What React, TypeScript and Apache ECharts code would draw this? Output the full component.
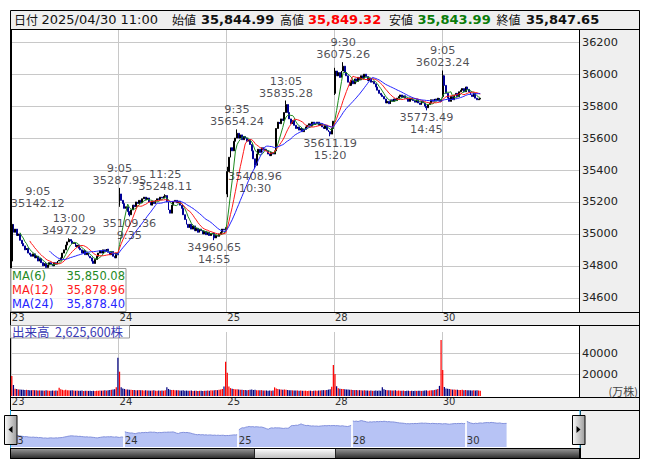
import React, { useEffect, useRef } from 'react';
import * as echarts from 'echarts';

// ---------------- data ----------------
const DAYS = ['23', '24', '25', '28', '30'];
const INFO_DATE = '2025/04/30';
const INFO_TIME = '11:00';

// closes of each 5-minute bar (9:05 ... 11:30, 12:35 ... 15:30)
const CLOSE_23 = [
  35060, 35010, 35030, 34990, 35000, 34960,
  34940, 34925, 34900, 34910, 34880, 34870,
  34860, 34875, 34850, 34860, 34830, 34845,
  34820, 34800, 34815, 34790, 34805, 34820,
  34810, 34800, 34820, 34810, 34830, 34835,
  34850, 34880, 34900, 34930, 34950, 34965,
  34955, 34940, 34945, 34920, 34930, 34910,
  34900, 34880, 34895, 34870, 34880, 34860,
  34850, 34830, 34815, 34840, 34860, 34880,
  34895, 34880, 34900, 34890, 34905, 34885,
  34870, 34890, 34860, 34850, 34880, 34868.63,
];
const CLOSE_24 = [
  35250, 35210, 35190, 35160, 35170, 35140,
  35120, 35150, 35180, 35170, 35200, 35190,
  35210, 35195, 35220, 35230, 35215, 35225,
  35200, 35180, 35205, 35190, 35210, 35220,
  35215, 35230, 35225, 35235, 35240, 35200,
  35150, 35130, 35180, 35200, 35210, 35195,
  35205, 35180, 35160, 35120, 35090, 35060,
  35040, 35060, 35030, 35050, 35020, 35035,
  35010, 35030, 35020, 35000, 35015, 34995,
  35010, 34990, 35000, 35005, 34975, 34990,
  34985, 35000, 35010, 35030, 35025, 35039.15,
];
const CLOSE_25 = [
  35390, 35480, 35540, 35520, 35580, 35600,
  35630, 35600, 35620, 35590, 35610, 35600,
  35580, 35590, 35560, 35520, 35470, 35430,
  35500, 35530, 35510, 35540, 35525, 35530,
  35520, 35500, 35490, 35510, 35500, 35520,
  35660, 35700, 35690, 35720, 35710, 35760,
  35810, 35760, 35720, 35690, 35710, 35680,
  35660, 35670, 35650, 35660, 35640, 35655,
  35670, 35680, 35690, 35675, 35700, 35685,
  35690, 35700, 35680, 35690, 35670, 35660,
  35680, 35650, 35640, 35625, 35660, 35705.74,
];
const CLOSE_28 = [
  36020, 35990, 36010, 35980, 36020, 36050,
  36010, 35990, 35950, 35930, 35960, 35940,
  35970, 35955, 35980, 35965, 35990, 35975,
  36000, 35985, 35960, 35975, 35950, 35955,
  35940, 35920, 35900, 35880, 35870, 35860,
  35845, 35820, 35830, 35815, 35840, 35830,
  35845, 35835, 35850, 35860, 35870, 35855,
  35865, 35850, 35845, 35830, 35850, 35840,
  35835, 35825, 35840, 35820, 35810, 35830,
  35820, 35800, 35790, 35810, 35820, 35840,
  35830, 35845, 35835, 35850, 35830, 35839.99,
];
const CLOSE_30 = [
  35990, 35930, 35880, 35850, 35830, 35860,
  35840, 35870, 35880, 35860, 35890, 35900,
  35910, 35890, 35920, 35905, 35890, 35870,
  35860, 35880, 35850, 35840, 35844.99, 35847.65,
];
// first bar of each day: [open, high, low]
const FIRST_BAR = [
  [34830, 35142.12, 34800],
  [35180, 35287.95, 35170],
  [35250, 35420, 35230],
  [35880, 36040, 35870],
  [35860, 36023.24, 35850],
];
// latest bar (info bar): open, high, low, close
const LAST_BAR = [35844.99, 35849.32, 35843.99, 35847.65];

// volume (万株)
const VOL_23 = [
  18700, 10300, 6800, 6500, 6200, 6000, 5900, 5800, 5700, 5800, 5600, 5500,
  5400, 5600, 5300, 5400, 5200, 5300, 5100, 5200, 5000, 5300, 5100, 4900,
  5000, 5200, 4900, 5100, 5000, 7800, 6400, 5800, 5500, 5800, 5400, 5300,
  5200, 5400, 5100, 5000, 5200, 4900, 5000, 5100, 4800, 4900, 5000, 4800,
  4900, 4700, 4900, 4800, 5000, 4900, 5100, 5000, 5200, 5300, 5100, 5400,
  5600, 5800, 6000, 6300, 8200, 35900,
];
const VOL_24 = [
  22800, 8200, 7000, 6600, 6200, 6000, 5800, 5900, 5600, 5700, 5500, 5400,
  5600, 5300, 5400, 5200, 5300, 5100, 5200, 5000, 5100, 5300, 5000, 4900,
  5100, 5000, 5200, 5000, 5300, 8100, 6600, 5900, 5600, 5700, 5400, 5300,
  5500, 5200, 5100, 5300, 5000, 5100, 4900, 5000, 5200, 4800, 4900, 5000,
  4800, 4900, 5000, 4700, 4900, 5000, 5100, 5000, 5300, 5200, 5400, 5600,
  5500, 5800, 6100, 6500, 9000, 32100,
];
const VOL_25 = [
  21800, 8800, 7400, 6900, 6500, 6200, 6400, 6000, 5800, 5900, 5600, 5700,
  5500, 5600, 5800, 6000, 5700, 5900, 5500, 5400, 5300, 5500, 5200, 5100,
  5200, 5000, 5100, 5000, 5200, 8100, 7000, 6500, 6200, 6000, 5800, 6100,
  5900, 5600, 5500, 5400, 5300, 5200, 5100, 5200, 5000, 5100, 4900, 5000,
  5000, 4800, 4900, 5000, 4800, 4900, 5100, 5000, 5200, 5100, 5300, 5500,
  5400, 5700, 6000, 6400, 8600, 29000,
];
const VOL_28 = [
  20600, 9200, 7200, 6900, 6600, 6500, 6300, 6100, 6000, 5800, 5900, 5600,
  5500, 5700, 5400, 5500, 5300, 5200, 5300, 5100, 5200, 5000, 5100, 4900,
  5000, 5200, 4900, 5100, 5000, 8100, 6300, 5700, 5400, 5500, 5300, 5200,
  5100, 5300, 5000, 5100, 4900, 5000, 5100, 4800, 4900, 5000, 4800, 4900,
  4700, 4900, 4800, 5000, 4900, 4800, 5000, 5100, 5300, 5000, 5200, 5400,
  5500, 5700, 6000, 6500, 9500, 52500,
];
const VOL_30 = [
  24400, 8400, 7000, 6800, 6500, 6300, 6000, 6100, 5800, 5900, 5700, 5600,
  5800, 5500, 5600, 5400, 5500, 5300, 5200, 5400, 5100, 5300, 5200, 5000,
];
const VOLUME_LAST_SHARES = 2625600;

// daily highs / lows marked on the chart
const ANNOTATIONS = [
  { day: '23', time: '9:05', value: 35142.12, kind: 'high' },
  { day: '23', time: '13:00', value: 34972.29, kind: 'high' },
  { day: '24', time: '9:05', value: 35287.95, kind: 'high' },
  { day: '24', time: '9:35', value: 35109.36, kind: 'low' },
  { day: '24', time: '11:25', value: 35248.11, kind: 'high' },
  { day: '24', time: '14:55', value: 34960.65, kind: 'low' },
  { day: '25', time: '9:35', value: 35654.24, kind: 'high' },
  { day: '25', time: '10:30', value: 35408.96, kind: 'low' },
  { day: '25', time: '13:05', value: 35835.28, kind: 'high' },
  { day: '25', time: '15:20', value: 35611.19, kind: 'low' },
  { day: '28', time: '9:30', value: 36075.26, kind: 'high' },
  { day: '28', time: '14:45', value: 35773.49, kind: 'low' },
  { day: '30', time: '9:05', value: 36023.24, kind: 'high' },
];

const MA_PERIODS = [6, 12, 24];
const MA_LAST = [35850.08, 35878.96, 35878.4];
const MA_COLORS = ['#1f8a1f', '#ff1a1a', '#2424ff'];

const PRICE_MIN = 34511;
const PRICE_MAX = 36283;
const VOL_MAX = 60000;
const VOL_GRID = [20000, 40000];
const MINI_MIN = 34170;
const MINI_MAX = 36800;
const PRICE_SLOTS = 348;
const MINI_SLOTS = 330;

// ---------------- helpers ----------------
const FONT = '"DejaVu Sans", Verdana, sans-serif';
const JP = '"Noto Sans CJK JP", sans-serif';
const fmt2 = (v: number) =>
  v.toLocaleString('en-US', { minimumFractionDigits: 2, maximumFractionDigits: 2 });

function timeToIndex(t: string) {
  const [h, m] = t.split(':').map(Number);
  const mins = h * 60 + m;
  if (mins <= 11 * 60 + 30) return (mins - (9 * 60 + 5)) / 5;
  return 30 + (mins - (12 * 60 + 35)) / 5;
}
function indexToTime(i: number) {
  const mins = i < 30 ? 9 * 60 + 5 + i * 5 : 12 * 60 + 35 + (i - 30) * 5;
  return `${Math.floor(mins / 60)}:${String(mins % 60).padStart(2, '0')}`;
}

function buildOption() {
  const dayCloses = [CLOSE_23, CLOSE_24, CLOSE_25, CLOSE_28, CLOSE_30];
  const dayVols = [VOL_23, VOL_24, VOL_25, VOL_28, VOL_30];
  const candles: number[][] = [];
  const closes: number[] = [];
  const vols: number[] = [];
  const cats: string[] = [];
  const dayStart: number[] = [];
  dayCloses.forEach((dc, d) => {
    dayStart.push(candles.length);
    dc.forEach((c, i) => {
      const o = i === 0 ? FIRST_BAR[d][0] : dc[i - 1];
      let hi = Math.max(o, c);
      let lo = Math.min(o, c);
      if (i === 0) {
        hi = Math.max(hi, FIRST_BAR[d][1]);
        lo = Math.min(lo, FIRST_BAR[d][2]);
      }
      candles.push([o, c, lo, hi]);
      closes.push(c);
      vols.push(dayVols[d][i]);
      cats.push(`${DAYS[d]} ${indexToTime(i)}`);
    });
  });
  const n = candles.length;
  const lastC = candles[n - 1];
  lastC[0] = LAST_BAR[0];
  lastC[3] = Math.max(lastC[3], LAST_BAR[1]);
  lastC[2] = Math.min(lastC[2], LAST_BAR[2]);
  lastC[1] = LAST_BAR[3];

  const annData = ANNOTATIONS.map((a) => {
    const idx = dayStart[DAYS.indexOf(a.day)] + timeToIndex(a.time);
    if (a.kind === 'high') candles[idx][3] = Math.max(candles[idx][3], a.value);
    else candles[idx][2] = Math.min(candles[idx][2], a.value);
    const vs = a.value.toFixed(2);
    const isHigh = a.kind === 'high';
    return {
      value: [idx, a.value],
      label: {
        position: isHigh ? 'top' : 'bottom',
        formatter: isHigh ? `${a.time}\n${vs}` : `${vs}\n${a.time}`,
        offset: idx === 0 ? [26, 0] : [0, 0],
      },
    };
  });

  const priceCats = cats.slice();
  for (let i = n; i < PRICE_SLOTS; i++) priceCats.push(`p${i}`);
  const miniCats = cats.slice();
  for (let i = n; i < MINI_SLOTS; i++) miniCats.push(`m${i}`);

  const isDayStart = (i: number) => i < n && dayStart.indexOf(i) >= 0;
  const dayLabel = (v: string) => v.split(' ')[0];

  const ma = (p: number) =>
    closes.map((_, i) => {
      if (i < p - 1) return '-';
      let s = 0;
      for (let k = i - p + 1; k <= i; k++) s += closes[k];
      return +(s / p).toFixed(2);
    });

  const volData = vols.map((v, i) => ({
    value: v,
    itemStyle: { color: candles[i][1] >= candles[i][0] ? '#ff0000' : '#000080' },
  }));

  const miniSeries = dayStart.map((s, d) => {
    const data: (number | string)[] = new Array(MINI_SLOTS).fill('-');
    dayCloses[d].forEach((_, i) => (data[s + i] = closes[s + i]));
    return {
      type: 'line',
      xAxisIndex: 2,
      yAxisIndex: 2,
      data,
      showSymbol: false,
      symbol: 'none',
      lineStyle: { color: '#8391dc', width: 1 },
      areaStyle: { color: '#b7c3f5', opacity: 1, origin: 'start' },
      silent: true,
      z: 2,
    };
  });

  const splitLineDays = {
    show: true,
    interval: (i: number) => isDayStart(i),
    lineStyle: { color: '#c8c8c8', width: 1 },
  };
  const dayAxisLabel = {
    show: true,
    interval: (i: number) => isDayStart(i),
    formatter: dayLabel,
    align: 'left',
    color: '#333',
    fontSize: 10,
    fontFamily: FONT,
    margin: 0,
  };

  // --------- graphic (frame, panels, texts) ---------
  const G = '#efefef';
  const rect = (x: number, y: number, w: number, h: number, fill: any, z = -5, stroke?: string) => ({
    type: 'rect',
    shape: { x, y, width: w, height: h },
    style: stroke ? { fill, stroke, lineWidth: 1 } : { fill },
    z,
    silent: true,
  });
  const line = (x1: number, y1: number, x2: number, y2: number, color = '#000') => ({
    type: 'line',
    shape: { x1, y1, x2, y2 },
    style: { stroke: color, lineWidth: 1 },
    z: 60,
    silent: true,
  });
  const text = (x: number, y: number, t: string, o: any = {}) => ({
    type: 'text',
    x,
    y,
    style: {
      text: t,
      fill: o.fill || '#111',
      fontSize: o.size || 12,
      fontFamily: o.family || FONT,
      fontWeight: o.weight || 'normal',
      align: o.align || 'left',
      verticalAlign: 'middle',
    },
    z: 70,
    silent: true,
  });

  const graphics: any[] = [
    rect(10, 10, 630, 19, G),
    rect(579, 29, 61, 283, G),
    rect(10, 312, 630, 13, G),
    rect(579, 325, 61, 72, G),
    rect(10, 397, 630, 13, G),
    rect(580, 410, 60, 49, G),
    // frame lines
    { type: 'rect', shape: { x: 10.5, y: 10.5, width: 629, height: 448 }, style: { fill: 'none', stroke: '#000', lineWidth: 1 }, z: 60, silent: true },
    line(10, 29.5, 640, 29.5),
    line(579.5, 29, 579.5, 312),
    line(579.5, 325, 579.5, 397),
    line(10, 312.5, 640, 312.5),
    line(10, 325.5, 640, 325.5),
    line(10, 397.5, 640, 397.5),
    line(10, 410.5, 640, 410.5),
    line(580.5, 410, 580.5, 459),
    line(10, 448.5, 580, 448.5),
    line(11.5, 29, 11.5, 312),
    // info bar
    text(14, 19.5, '日付', { family: JP, size: 12 }),
    text(41.5, 19.5, `${INFO_DATE} ${INFO_TIME}`, { size: 13 }),
    text(172, 19.5, '始値', { family: JP, size: 12 }),
    text(201, 19.5, fmt2(LAST_BAR[0]), { size: 13, weight: 'bold' }),
    text(280, 19.5, '高値', { family: JP, size: 12 }),
    text(308, 19.5, fmt2(LAST_BAR[1]), { size: 13, weight: 'bold', fill: '#ff0000' }),
    text(389, 19.5, '安値', { family: JP, size: 12 }),
    text(417.5, 19.5, fmt2(LAST_BAR[2]), { size: 13, weight: 'bold', fill: '#0a7d0a' }),
    text(496.5, 19.5, '終値', { family: JP, size: 12 }),
    text(526, 19.5, fmt2(LAST_BAR[3]), { size: 13, weight: 'bold' }),
    // MA legend
    { type: 'rect', shape: { x: 10.5, y: 268.5, width: 115.5, height: 43 }, style: { fill: 'rgba(255,255,255,0.8)', stroke: '#999', lineWidth: 1 }, z: 65, silent: true },
    ...MA_PERIODS.flatMap((p, k) => [
      text(12, 275.5 + k * 14, `MA(${p})`, { fill: MA_COLORS[k], size: 11.5 }),
      text(125, 275.5 + k * 14, fmt2(MA_LAST[k]), { fill: MA_COLORS[k], size: 11.5, align: 'right' }),
    ]),
    // volume label
    { type: 'rect', shape: { x: 10.5, y: 325.5, width: 119, height: 12.5 }, style: { fill: 'rgba(255,255,255,0.8)', stroke: '#999', lineWidth: 1 }, z: 65, silent: true },
    text(12, 331.8, `出来高  ${VOLUME_LAST_SHARES.toLocaleString('en-US')}株`, { family: JP, size: 12.5, fill: '#3a3ab4' }),
    text(638, 391, '(万株)', { family: JP, size: 11, fill: '#444', align: 'right' }),
    // slider
    line(10.5, 410, 10.5, 448, '#22a6e0'),
    line(580, 410, 580, 448, '#22a6e0'),
    {
      type: 'rect', shape: { x: 10.5, y: 448.5, width: 569, height: 10 },
      style: { fill: new echarts.graphic.LinearGradient(0, 0, 0, 1, [{ offset: 0, color: '#9a9a9a' }, { offset: 1, color: '#2a2a2a' }]), stroke: '#000', lineWidth: 1 },
      z: 55, silent: true,
    },
    {
      type: 'rect', shape: { x: 254.5, y: 448.5, width: 81, height: 10 },
      style: { fill: new echarts.graphic.LinearGradient(0, 0, 0, 1, [{ offset: 0, color: '#ffffff' }, { offset: 1, color: '#bdbdbd' }]), stroke: '#222', lineWidth: 1 },
      z: 56, silent: true,
    },
    {
      type: 'rect', shape: { x: 4.5, y: 415.5, width: 12.5, height: 29 },
      style: { fill: new echarts.graphic.LinearGradient(0, 0, 1, 0, [{ offset: 0, color: '#fafafa' }, { offset: 1, color: '#9c9c9c' }]), stroke: '#000', lineWidth: 1 },
      z: 66, silent: true,
    },
    { type: 'polygon', shape: { points: [[8.5, 429.5], [12.5, 426], [12.5, 433]] }, style: { fill: '#000' }, z: 67, silent: true },
    {
      type: 'rect', shape: { x: 572.5, y: 415.5, width: 12.5, height: 29 },
      style: { fill: new echarts.graphic.LinearGradient(0, 0, 1, 0, [{ offset: 0, color: '#fafafa' }, { offset: 1, color: '#9c9c9c' }]), stroke: '#000', lineWidth: 1 },
      z: 66, silent: true,
    },
    { type: 'polygon', shape: { points: [[576.5, 426], [576.5, 433], [580.5, 429.5]] }, style: { fill: '#000' }, z: 67, silent: true },
  ];

  return {
    animation: false,
    backgroundColor: '#fff',
    grid: [
      { left: 11, top: 29, width: 568, height: 283 },
      { left: 11, top: 332, width: 568, height: 64 },
      { left: 10, top: 410, width: 570, height: 37 },
    ],
    xAxis: [
      {
        type: 'category', gridIndex: 0, data: priceCats, boundaryGap: true,
        axisLine: { show: false }, axisTick: { show: false },
        axisLabel: dayAxisLabel, splitLine: splitLineDays,
      },
      {
        type: 'category', gridIndex: 1, data: priceCats, boundaryGap: true,
        axisLine: { show: false }, axisTick: { show: false },
        axisLabel: dayAxisLabel, splitLine: splitLineDays,
      },
      {
        type: 'category', gridIndex: 2, data: miniCats, boundaryGap: true,
        axisLine: { show: false }, axisTick: { show: false },
        axisLabel: { ...dayAxisLabel, inside: true, margin: 2, color: '#333' },
        splitLine: { show: false },
        z: 10,
      },
    ],
    yAxis: [
      {
        type: 'value', gridIndex: 0, position: 'right', min: PRICE_MIN, max: PRICE_MAX,
        minInterval: 200, maxInterval: 200, scale: true,
        axisLine: { show: false }, axisTick: { show: false },
        axisLabel: {
          showMinLabel: false, showMaxLabel: false, margin: 3, color: '#222', fontSize: 11.3, fontFamily: FONT,
          formatter: (v: number) => String(Math.round(v)),
        },
        splitLine: { show: true, lineStyle: { color: '#c8c8c8', width: 1 } },
      },
      {
        type: 'value', gridIndex: 1, position: 'right', min: 0, max: VOL_MAX,
        minInterval: 20000, maxInterval: 20000,
        axisLine: { show: false }, axisTick: { show: false },
        axisLabel: {
          margin: 3, color: '#222', fontSize: 11.3, fontFamily: FONT,
          formatter: (v: number) => (VOL_GRID.indexOf(v) >= 0 ? String(v) : ''),
        },
        splitLine: { show: false },
      },
      {
        type: 'value', gridIndex: 2, min: MINI_MIN, max: MINI_MAX, show: false,
        splitLine: { show: false },
      },
    ],
    graphic: graphics,
    series: [
      {
        type: 'candlestick', xAxisIndex: 0, yAxisIndex: 0, data: candles,
        barWidth: '85%',
        itemStyle: { color: '#000000', color0: '#000096', borderColor: '#000000', borderColor0: '#000096', borderWidth: 1 },
        silent: true, z: 3,
      },
      ...MA_PERIODS.map((p, k) => ({
        type: 'line', xAxisIndex: 0, yAxisIndex: 0, data: ma(p),
        showSymbol: false, symbol: 'none', silent: true,
        lineStyle: { color: MA_COLORS[k], width: 1 }, z: 4,
      })),
      {
        type: 'scatter', xAxisIndex: 0, yAxisIndex: 0, data: annData,
        symbolSize: 1, itemStyle: { color: 'rgba(0,0,0,0)' }, silent: true, z: 5,
        label: { show: true, color: '#1e1e2a', fontSize: 11.3, fontFamily: FONT, lineHeight: 12, distance: 1 },
      },
      {
        type: 'bar', xAxisIndex: 1, yAxisIndex: 1, data: volData, barWidth: '75%', silent: true, z: 3,
        markLine: {
          silent: true, symbol: ['none', 'none'], label: { show: false },
          lineStyle: { color: '#c8c8c8', type: 'solid', width: 1 },
          data: VOL_GRID.map((v) => ({ yAxis: v })),
          z: 1,
        },
      },
      ...miniSeries,
    ],
  };
}

export default function App() {
  const ref = useRef<HTMLDivElement>(null);
  useEffect(() => {
    const chart = echarts.init(ref.current!, undefined, { renderer: 'svg' });
    chart.setOption(buildOption() as any);
    return () => chart.dispose();
  }, []);
  return (
    <div
      ref={ref}
      style={{ position: 'fixed', left: 0, top: 0, width: 653, height: 470, background: '#fff' }}
    />
  );
}
